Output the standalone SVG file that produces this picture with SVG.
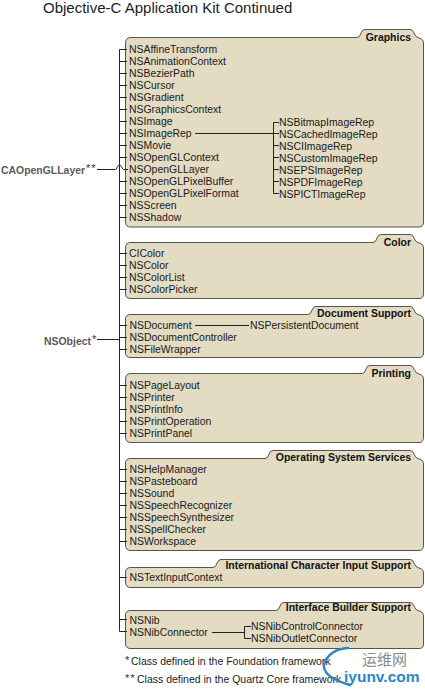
<svg xmlns="http://www.w3.org/2000/svg" width="425" height="693" viewBox="0 0 425 693">
<style>
text{font-family:"Liberation Sans",Arial,sans-serif;font-size:10.45px;fill:#1a1a1a}
.title{font-size:15px;fill:#222}
.head{font-weight:bold;text-anchor:end;fill:#111}
.root{font-weight:bold;fill:#5a5a5a}
.panel{fill:#e3dbc2;stroke:#55534c;stroke-width:1}
.line{fill:none;stroke:#222;stroke-width:1}
.sup{font-size:11px;fill:#333;letter-spacing:1px}
.foot{font-size:10.5px;fill:#222}
.wm{fill:none;stroke:#2f86c5;stroke-width:2.5}
</style>
<text class="title" x="43" y="13">Objective-C Application Kit Continued</text>
<g id="root-caopengllayer"><text class="root" x="1" y="173.500">CAOpenGLLayer</text><text class="sup" x="86" y="172">**</text></g>
<g id="root-nsobject"><text class="root" x="44" y="344.500">NSObject</text><text class="sup" x="92" y="343">*</text></g>
<g id="graphics">
<path class="panel" d="M125.500 43Q125.500 37.500 131 37.500H357Q360 37.500 361 33Q362 29.500 365 29.500H410Q413 29.500 414 33Q415 37 419 38Q423.500 39 423.500 43V222Q423.500 227 419 227H131Q125.500 227 125.500 222Z"/>
<text class="head" x="411" y="41">Graphics</text>
<text x="129" y="53">NSAffineTransform</text><text x="129" y="65">NSAnimationContext</text><text x="129" y="77">NSBezierPath</text><text x="129" y="89">NSCursor</text><text x="129" y="101">NSGradient</text><text x="129" y="113">NSGraphicsContext</text><text x="129" y="125">NSImage</text><text x="129" y="137">NSImageRep</text><text x="129" y="149">NSMovie</text><text x="129" y="161">NSOpenGLContext</text><text x="129" y="173">NSOpenGLLayer</text><text x="129" y="185">NSOpenGLPixelBuffer</text><text x="129" y="197">NSOpenGLPixelFormat</text><text x="129" y="209">NSScreen</text><text x="129" y="221">NSShadow</text>
<text x="279" y="125.500">NSBitmapImageRep</text><text x="279" y="137.500">NSCachedImageRep</text><text x="279" y="149.500">NSCIImageRep</text><text x="279" y="161.500">NSCustomImageRep</text><text x="279" y="173.500">NSEPSImageRep</text><text x="279" y="185.500">NSPDFImageRep</text><text x="279" y="197.500">NSPICTImageRep</text>
</g>
<g id="color">
<path class="panel" d="M125.500 248Q125.500 242.500 131 242.500H373Q376 242.500 377 238Q378 234.500 381 234.500H410Q413 234.500 414 238Q415 242 419 243Q423.500 244 423.500 248V294Q423.500 298.500 419 298.500H131Q125.500 298.500 125.500 294Z"/>
<text class="head" x="411" y="245.500">Color</text>
<text x="129" y="257">CIColor</text><text x="129" y="269">NSColor</text><text x="129" y="281">NSColorList</text><text x="129" y="293">NSColorPicker</text>
</g>
<g id="document-support">
<path class="panel" d="M125.500 319Q125.500 314.500 131 314.500H308Q311 314.500 312 310Q313 306.500 316 306.500H410Q413 306.500 414 310Q415 314 419 315Q423.500 316 423.500 320V353Q423.500 357.500 419 357.500H131Q125.500 357.500 125.500 353Z"/>
<text class="head" x="411" y="317">Document Support</text>
<text x="129.500" y="329">NSDocument</text><text x="129.500" y="341">NSDocumentController</text><text x="129.500" y="353">NSFileWrapper</text><text x="250" y="329">NSPersistentDocument</text>
</g>
<g id="printing">
<path class="panel" d="M125.500 379Q125.500 373.500 131 373.500H362Q365 373.500 366 369Q367 365.500 370 365.500H410Q413 365.500 414 369Q415 373 419 374Q423.500 375 423.500 379V437Q423.500 442.500 419 442.500H131Q125.500 442.500 125.500 437Z"/>
<text class="head" x="411" y="377">Printing</text>
<text x="129.500" y="389">NSPageLayout</text><text x="129.500" y="401">NSPrinter</text><text x="129.500" y="413">NSPrintInfo</text><text x="129.500" y="425">NSPrintOperation</text><text x="129.500" y="437">NSPrintPanel</text>
</g>
<g id="operating-system-services">
<path class="panel" d="M125.500 463Q125.500 458.500 131 458.500H265Q268 458.500 269 454Q270 450.500 273 450.500H410Q413 450.500 414 454Q415 458 419 459Q423.500 460 423.500 464V545Q423.500 550.500 419 550.500H131Q125.500 550.500 125.500 545Z"/>
<text class="head" x="411" y="461">Operating System Services</text>
<text x="129.500" y="473">NSHelpManager</text><text x="129.500" y="485">NSPasteboard</text><text x="129.500" y="497">NSSound</text><text x="129.500" y="509">NSSpeechRecognizer</text><text x="129.500" y="521">NSSpeechSynthesizer</text><text x="129.500" y="533">NSSpellChecker</text><text x="129.500" y="545">NSWorkspace</text>
</g>
<g id="international-character-input-support">
<path class="panel" d="M125.500 572Q125.500 567.500 131 567.500H213Q216 567.500 217 563Q218 559.500 221 559.500H410Q413 559.500 414 563Q415 567 419 568Q423.500 569 423.500 573V582Q423.500 587.500 419 587.500H131Q125.500 587.500 125.500 582Z"/>
<text class="head" x="411" y="569">International Character Input Support</text>
<text x="129.500" y="581">NSTextInputContext</text>
</g>
<g id="interface-builder-support">
<path class="panel" d="M125.500 615Q125.500 610.500 131 610.500H276Q279 610.500 280 606Q281 602.500 284 602.500H410Q413 602.500 414 606Q415 610 419 611Q423.500 612 423.500 616V644Q423.500 648.500 419 648.500H131Q125.500 648.500 125.500 644Z"/>
<text class="head" x="411" y="611">Interface Builder Support</text>
<text x="129.500" y="624">NSNib</text><text x="129.500" y="636">NSNibConnector</text><text x="251" y="630">NSNibControlConnector</text><text x="251" y="642">NSNibOutletConnector</text>
</g>
<g id="connectors">
<path class="line" d="M127 49.500H119.500V631.500H127"/>
<path class="line" d="M119.500 61.500H127M119.500 73.500H127M119.500 85.500H127M119.500 97.500H127M119.500 109.500H127M119.500 121.500H127M119.500 133.500H127M119.500 145.500H127M119.500 157.500H127M119.500 181.500H127M119.500 193.500H127M119.500 205.500H127M119.500 217.500H127"/>
<path class="line" d="M97 169.500H115.500Q116.500 169.500 117 167.500Q119.500 162.500 122 167.500Q122.500 169.500 123.500 169.500H128"/>
<path class="line" d="M195 133.500H279M279 122.500H273.500V193.500H279M273.500 145.500H279M273.500 157.500H279M273.500 169.500H279M273.500 181.500H279"/>
<path class="line" d="M119.500 253.500H127M119.500 265.500H127M119.500 277.500H127M119.500 289.500H127"/>
<path class="line" d="M119.500 325.500H127M119.500 337.500H127M119.500 349.500H127M97 339.500H119.500"/>
<path class="line" d="M195 325.500H249"/>
<path class="line" d="M119.500 385.500H127M119.500 397.500H127M119.500 409.500H127M119.500 421.500H127M119.500 433.500H127"/>
<path class="line" d="M119.500 469.500H127M119.500 481.500H127M119.500 493.500H127M119.500 505.500H127M119.500 517.500H127M119.500 529.500H127M119.500 541.500H127"/>
<path class="line" d="M119.500 577.500H127M119.500 619.500H127"/>
<path class="line" d="M212 632.500H244M251 626.500H244.500V638.500H251"/>
</g>
<g id="footnotes">
<text class="sup" x="125" y="664">*</text><text class="foot" x="131" y="665">Class defined in the Foundation framework</text>
<text class="sup" x="125" y="682">**</text><text class="foot" x="137" y="683">Class defined in the Quartz Core framework.</text>
</g>
<g id="watermark">
<path class="wm" d="M348 648Q330 649 324 664Q322 677 350 685" stroke-linecap="round"/>
<text x="362" y="665" style="font-family:'Noto Sans CJK SC',sans-serif;font-size:15px;fill:#8c8c8c">运维网</text>
<text x="344" y="682" style="font-size:15.500px;font-weight:bold;fill:#2a86c8">iyunv.com</text>
</g>
</svg>
